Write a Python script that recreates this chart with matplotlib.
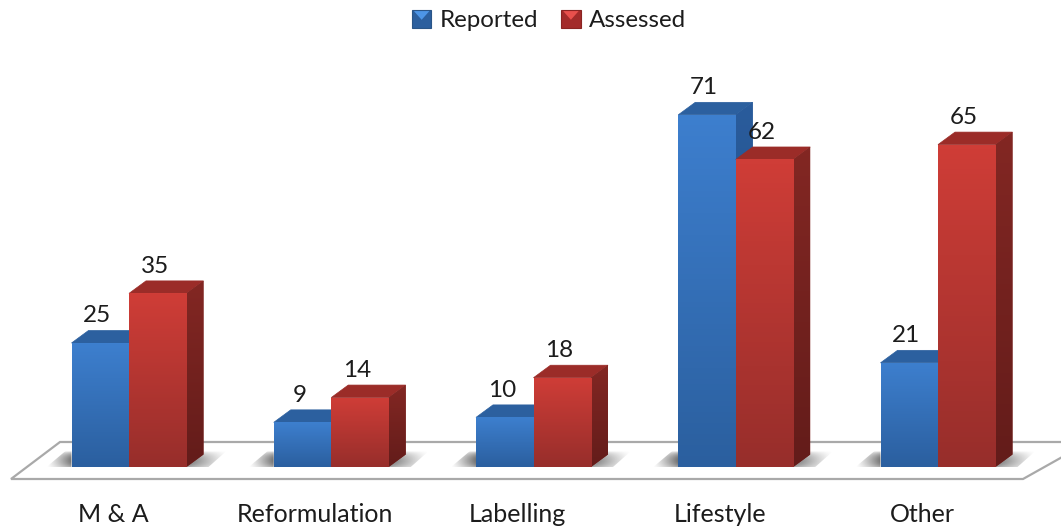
import numpy as np
import matplotlib
matplotlib.use('Agg')
import matplotlib.pyplot as plt
from matplotlib.colors import LinearSegmentedColormap
from matplotlib.legend_handler import HandlerPatch
from matplotlib.patches import Patch, Polygon, Rectangle

plt.rcParams['font.family'] = ['Lato', 'DejaVu Sans']

categories = ['M & A', 'Reformulation', 'Labelling', 'Lifestyle', 'Other']
reported = [25, 9, 10, 71, 21]
assessed = [35, 14, 18, 62, 65]

# pixel scale of the picture, the axes fill the whole figure
px_x = 202.25
px_y = 4.96
bar_w = 57.5 / px_x
depth_x = 17 / px_x
depth_y = 12.5 / px_y
text_col = '#1c1c1c'

fig = plt.figure(figsize=(10.61, 5.28), dpi=100)
ax = fig.add_axes([0, 0, 1, 1])


def shadow(x0, x1, x2, x3, y0, y1, near_left):
    # soft grey floor shadow next to a bar, darkest beside the bar
    ramp_x = np.linspace(0, 1, 64) if not near_left else np.linspace(1, 0, 64)
    ramp_y = np.sin(np.linspace(0.15, 1.0, 48) * np.pi) ** 0.6
    rgba = np.zeros((48, 64, 4))
    rgba[..., :3] = 0.42
    rgba[..., 3] = np.outer(ramp_y, ramp_x ** 1.1) * 0.95
    im = ax.imshow(rgba, extent=[min(x0, x1), max(x2, x3), y0, y1], aspect='auto',
                   zorder=2, interpolation='bilinear', origin='lower')
    poly = Polygon([(x0, y0), (x1, y1), (x3, y1), (x2, y0)], closed=True,
                   transform=ax.transData, fc='none', ec='none')
    ax.add_patch(poly)
    im.set_clip_path(poly)


def bar3d(x, values, top, bottom, side_top, side_bottom, roof, z):
    bars = ax.bar(x, values, width=bar_w, color=top, align='edge', zorder=z, linewidth=0)
    cmap = LinearSegmentedColormap.from_list('f', [top, bottom])
    side_map = LinearSegmentedColormap.from_list('d', [side_top, side_bottom])
    for b in bars:
        left, h = b.get_x(), b.get_height()
        right = left + b.get_width()
        grad = np.linspace(0, 1, 64).reshape(-1, 1)
        im = ax.imshow(grad, extent=[left, right, 0, h], cmap=cmap, aspect='auto',
                       zorder=z + 0.1, origin='upper')
        im.set_clip_path(b)
        ax.add_patch(Polygon([(left, h), (left + depth_x, h + depth_y),
                              (right + depth_x, h + depth_y), (right, h)],
                             closed=True, fc=roof, ec=roof, lw=0.5, zorder=z - 0.1))
        sd = Polygon([(right, 0), (right + depth_x, depth_y),
                      (right + depth_x, h + depth_y), (right, h)],
                     closed=True, fc=side_top, ec='none', zorder=z - 0.1)
        ax.add_patch(sd)
        im2 = ax.imshow(grad, extent=[right, right + depth_x, 0, h + depth_y], cmap=side_map,
                        aspect='auto', zorder=z - 0.05, origin='upper')
        im2.set_clip_path(sd)


class Swatch(HandlerPatch):
    # legend square with the light wedge at the top
    def create_artists(self, legend, orig, xd, yd, w, h, fontsize, trans):
        sq = Rectangle((-xd, -yd), w, h, fc=orig.get_facecolor(), ec=orig.get_edgecolor(),
                       lw=0.8, transform=trans)
        tri = Polygon([(-xd + 0.1 * w, -yd + h * 0.92), (-xd + 0.9 * w, -yd + h * 0.92),
                       (-xd + 0.5 * w, -yd + h * 0.45)], closed=True,
                      fc=orig.get_gid(), ec='none', transform=trans)
        return [sq, tri]


# floor
floor_front = -12 / px_y
floor_back = 25 / px_y
floor = Polygon([(-118 / px_x, floor_front), (894 / px_x, floor_front),
                 (960 / px_x, floor_back), (-69 / px_x, floor_back)], closed=True,
                fc='white', ec='#a9a9a9', lw=1.6, zorder=1)
ax.add_patch(floor)

x = np.arange(len(categories))
for i in x:
    shadow(i - bar_w - 25 / px_x, i - bar_w - 6 / px_x, i - bar_w, i - bar_w,
           0, 16 / px_y, False)
    shadow(i + bar_w, i + bar_w + depth_x, i + bar_w + 22 / px_x, i + bar_w + 40 / px_x,
           0, 16 / px_y, True)

bar3d(x - bar_w, reported, '#3d7fce', '#2b5f9f', '#2a5c9c', '#1f4a80', '#2c609f', 4)
bar3d(x, assessed, '#cf3d37', '#972e2b', '#832723', '#631c1a', '#9b2c28', 5)

for i in x:
    ax.text(i - bar_w / 2 - 3 / px_x, reported[i] + 27 / px_y, str(reported[i]),
            ha='center', va='center', fontsize=17.5, color=text_col, zorder=8)
    ax.text(i + bar_w / 2 - 3 / px_x, assessed[i] + 27 / px_y, str(assessed[i]),
            ha='center', va='center', fontsize=17.5, color=text_col, zorder=8)
    ax.text(i - 16 / px_x, -47 / px_y, categories[i], ha='center', va='center',
            fontsize=18, color=text_col, zorder=8)

h1 = Patch(facecolor='#2c5f9e', edgecolor='#2a5587', gid='#4d95e6', label='Reported')
h2 = Patch(facecolor='#a32b2a', edgecolor='#8a2422', gid='#e8504c', label='Assessed')
ax.legend(handles=[h1, h2], handler_map={Patch: Swatch()}, loc='upper center',
          bbox_to_anchor=(0.5175, 1.023), ncol=2, frameon=False, fontsize=17.4,
          handlelength=0.8, handleheight=0.8, handletextpad=0.35, columnspacing=0.95,
          labelcolor=text_col)

ax.set_xlim(-129 / px_x, (1061 - 129) / px_x)
ax.set_ylim((467 - 528) / px_y, 467 / px_y)
ax.axis('off')

fig.savefig('out.png', dpi=100)
